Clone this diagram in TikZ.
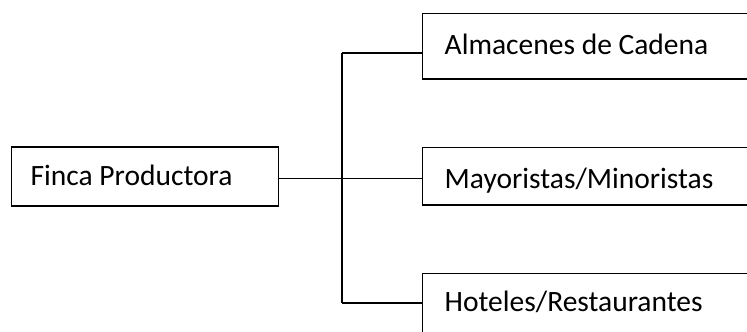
\documentclass[tikz,border=0pt]{standalone}
\usepackage{fontspec}
\setmainfont{Carlito}
\begin{document}
\begin{tikzpicture}[x=1pt,y=-1pt,
  box/.style={draw=black,line width=1.6pt,rectangle,inner sep=0pt,anchor=north west},
  lbl/.style={anchor=base west,inner sep=0pt,font=\fontsize{29.5}{34}\selectfont},
  conn/.style={draw=black,line width=1.6pt}]
\useasboundingbox (0,0) rectangle (747,332);
\clip (0,0) rectangle (747,332);
\node[box,minimum width=267pt,minimum height=59pt] (fb) at (10.7,146) {};
\node[box,minimum width=340pt,minimum height=65.3pt] (ab) at (421.7,12.7) {};
\node[box,minimum width=340pt,minimum height=57.3pt] (mb) at (421.7,146.7) {};
\node[box,minimum width=340pt,minimum height=70pt] (hb) at (421.7,272.7) {};
\node[lbl] (ft) at (30.5,185.7) {Finca Productora};
\node[lbl] (at) at (444.5,54.3) {Almacenes de Cadena};
\node[lbl] (mt) at (444.5,188.3) {Mayoristas/Minoristas};
\node[lbl] (ht) at (444.5,311.7) {Hoteles/Restaurantes};
\coordinate (j) at (341.7,178.3);
\coordinate (jt) at (341.7,52.7);
\coordinate (jb) at (341.7,302.7);
\draw[conn] (fb.east |- j) -- (mb.west |- j);
\draw[conn] (jt) -- (jb);
\draw[conn] (jt) -- (ab.west |- jt);
\draw[conn] (jb) -- (hb.west |- jb);
\end{tikzpicture}
\end{document}
